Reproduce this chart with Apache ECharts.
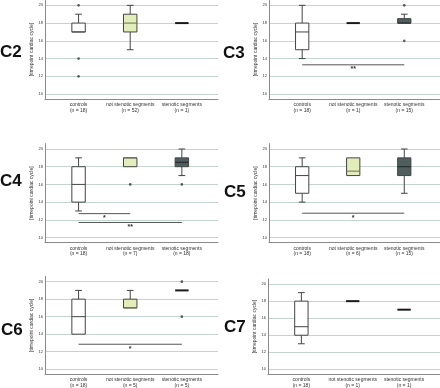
<!DOCTYPE html>
<html><head><meta charset="utf-8">
<script src="https://cdn.jsdelivr.net/npm/echarts@6/dist/echarts.min.js"></script>
<style>html,body{margin:0;padding:0;background:#fff}#c{width:440px;height:388px}</style>
</head><body><div id="c"></div>
<script>
// ---- data ----
const categories = ['controls', 'not stenotic segments', 'stenotic segments'];
const panelNames = ['C2', 'C3', 'C4', 'C5', 'C6', 'C7'];
const yTicks = [10, 12, 14, 16, 18, 20];
// counts per category
const nC2 = [18, 52, 1];
const nC3 = [18, 1, 15];
const nC4 = [18, 7, 18];
const nC5 = [18, 6, 15];
const nC6 = [18, 5, 5];
const nC7 = [18, 1, 1];
// [min, q1, median, q3, max] per category
const boxC2 = [[17, 17, 17, 18, 19], [15, 17, 18, 19, 20], [18, 18, 18, 18, 18]];
const boxC3 = [[14, 15, 17, 18, 20], [18, 18, 18, 18, 18], [18, 18, 18, 18.5, 19]];
const boxC4 = [[13, 14, 16, 18, 19], [18, 18, 19, 19, 19], [17, 18, 18.5, 19, 20]];
const boxC5 = [[14, 15, 17, 18, 19], [17, 17, 17.5, 19, 19], [15, 17, 18, 19, 20]];
const boxC6 = [[14, 14, 16, 18, 19], [17, 17, 17, 18, 19], [19, 19, 19, 19, 19]];
const boxC7 = [[13, 14, 15, 18, 19], [18, 18, 18, 18, 18], [17, 17, 17, 17, 17]];
// outliers [categoryIndex, value]
const outC2 = [[0, 20], [0, 14], [0, 12]];
const outC3 = [[2, 20], [2, 16]];
const outC4 = [[1, 16], [2, 16]];
const outC5 = [];
const outC6 = [[2, 20], [2, 16]];
const outC7 = [];
// significance bars [fromCategory, toCategory, value, mark]
const sigC2 = [];
const sigC3 = [[0, 2, 13.3, '**']];
const sigC4 = [[0, 1, 12.7, '*'], [0, 2, 11.7, '**']];
const sigC5 = [[0, 2, 12.75, '*']];
const sigC6 = [[0, 2, 12.85, '*']];
const sigC7 = [];

const counts = [nC2, nC3, nC4, nC5, nC6, nC7];
const boxes = [boxC2, boxC3, boxC4, boxC5, boxC6, boxC7];
const outs = [outC2, outC3, outC4, outC5, outC6, outC7];
const sigs = [sigC2, sigC3, sigC4, sigC5, sigC6, sigC7];

// ---- layout / style ----
const grids = [
  {left: 45, top: 0, width: 173, height: 99},
  {left: 269, top: 0, width: 171, height: 99},
  {left: 45, top: 143.7, width: 173, height: 98.7},
  {left: 269, top: 143.7, width: 171, height: 98.7},
  {left: 45, top: 276.4, width: 173, height: 99},
  {left: 268, top: 279, width: 172, height: 98}
];
const labelPos = [[0, 52.5], [223, 53], [0, 181], [224, 192.5], [1, 330], [224, 327.5]];
const fills = ['#ffffff', '#e3edbc', '#4f5f5f'];
const medianColors = ['#444', '#6a6f55', '#222'];
const FONT = '"Liberation Sans", Arial, sans-serif';

const chart = echarts.init(document.getElementById('c'), null, {renderer: 'canvas'});

const xAxes = [], yAxes = [], series = [], graphics = [];
grids.forEach((g, p) => {
  const n = counts[p];
  xAxes.push({
    type: 'value', gridIndex: p, min: -0.65, max: 2.7, splitNumber: 3,
    axisLine: {show: true, onZero: false, lineStyle: {color: '#8a8a8a', width: 1}},
    axisTick: {show: false}, splitLine: {show: false},
    axisLabel: {
      showMinLabel: false, showMaxLabel: false, margin: 3,
      fontSize: 5, lineHeight: 5.5, color: '#333', fontFamily: FONT,
      formatter: v => {
        const i = Math.round(v);
        if (Math.abs(v - i) > 1e-6 || i < 0 || i > 2) return '';
        return categories[i] + '\n(n = ' + n[i] + ')';
      }
    }
  });
  yAxes.push({
    type: 'value', gridIndex: p, min: 9.45, max: 20.6, splitNumber: 5,
    name: '[timepoint cardiac cycle]', nameLocation: 'middle', nameGap: 11,
    nameTextStyle: {fontSize: 5, color: '#333', fontFamily: FONT},
    axisLine: {show: true, onZero: false, lineStyle: {color: '#8a8a8a', width: 1}},
    axisTick: {show: false},
    splitLine: {show: true, showMinLine: false, showMaxLine: false, lineStyle: {color: '#c6d4d0', width: 1.2}},
    axisLabel: {
      showMinLabel: false, showMaxLabel: false, margin: 2,
      fontSize: 4, color: '#333', fontFamily: FONT,
      formatter: v => yTicks.indexOf(v) >= 0 ? String(v) : ''
    }
  });
  series.push({
    type: 'custom', xAxisIndex: p, yAxisIndex: p, z: 3,
    data: boxes[p].map((b, i) => [i].concat(b)),
    renderItem: (params, api) => {
      const x = api.value(0);
      const vmin = api.value(1), q1 = api.value(2), med = api.value(3), q3 = api.value(4), vmax = api.value(5);
      const idx = params.dataIndex;
      const bw = api.size([1, 0])[0] * 0.26;
      const cap = bw * 0.5;
      const c = (v) => api.coord([x, v]);
      const pMin = c(vmin), pQ1 = c(q1), pMed = c(med), pQ3 = c(q3), pMax = c(vmax);
      const cx = pMed[0];
      const children = [];
      if (vmin === vmax) {
        children.push({type: 'line', shape: {x1: cx - bw / 2, y1: pMed[1], x2: cx + bw / 2, y2: pMed[1]},
          style: {stroke: '#1a1a1a', lineWidth: 2}});
        return {type: 'group', children};
      }
      const ls = {stroke: '#444', lineWidth: 1};
      if (vmax > q3) {
        children.push({type: 'line', shape: {x1: cx, y1: pQ3[1], x2: cx, y2: pMax[1]}, style: ls});
        children.push({type: 'line', shape: {x1: cx - cap / 2, y1: pMax[1], x2: cx + cap / 2, y2: pMax[1]}, style: ls});
      }
      if (vmin < q1) {
        children.push({type: 'line', shape: {x1: cx, y1: pQ1[1], x2: cx, y2: pMin[1]}, style: ls});
        children.push({type: 'line', shape: {x1: cx - cap / 2, y1: pMin[1], x2: cx + cap / 2, y2: pMin[1]}, style: ls});
      }
      children.push({type: 'rect', shape: {x: cx - bw / 2, y: pQ3[1], width: bw, height: pQ1[1] - pQ3[1]},
        style: {fill: fills[idx], stroke: '#444', lineWidth: 1}});
      children.push({type: 'line', shape: {x1: cx - bw / 2, y1: pMed[1], x2: cx + bw / 2, y2: pMed[1]},
        style: {stroke: medianColors[idx], lineWidth: 1}});
      return {type: 'group', children};
    }
  });
  series.push({
    type: 'scatter', xAxisIndex: p, yAxisIndex: p, z: 4,
    symbol: 'circle', symbolSize: 2.6, itemStyle: {color: '#333'},
    data: outs[p]
  });
  series.push({
    type: 'custom', xAxisIndex: p, yAxisIndex: p, z: 2,
    data: sigs[p],
    renderItem: (params, api) => {
      const a = api.coord([api.value(0), api.value(2)]);
      const b = api.coord([api.value(1), api.value(2)]);
      const mark = sigs[p][params.dataIndex][3];
      return {type: 'group', children: [
        {type: 'line', shape: {x1: a[0], y1: a[1], x2: b[0], y2: b[1]}, style: {stroke: '#555', lineWidth: 1}},
        {type: 'text', x: (a[0] + b[0]) / 2, y: a[1] + 1,
          style: {text: mark, fontSize: 7, fontWeight: 'bold', fontFamily: FONT, fill: '#333', align: 'center', verticalAlign: 'top'}}
      ]};
    }
  });
  graphics.push({
    type: 'text', x: labelPos[p][0], y: labelPos[p][1],
    style: {text: panelNames[p], font: 'bold 17px ' + FONT, fill: '#111', textVerticalAlign: 'middle', verticalAlign: 'middle'}
  });
});

chart.setOption({
  animation: false,
  backgroundColor: '#fff',
  grid: grids.map(g => Object.assign({containLabel: false}, g)),
  xAxis: xAxes,
  yAxis: yAxes,
  series: series,
  graphic: graphics
});
</script></body></html>
